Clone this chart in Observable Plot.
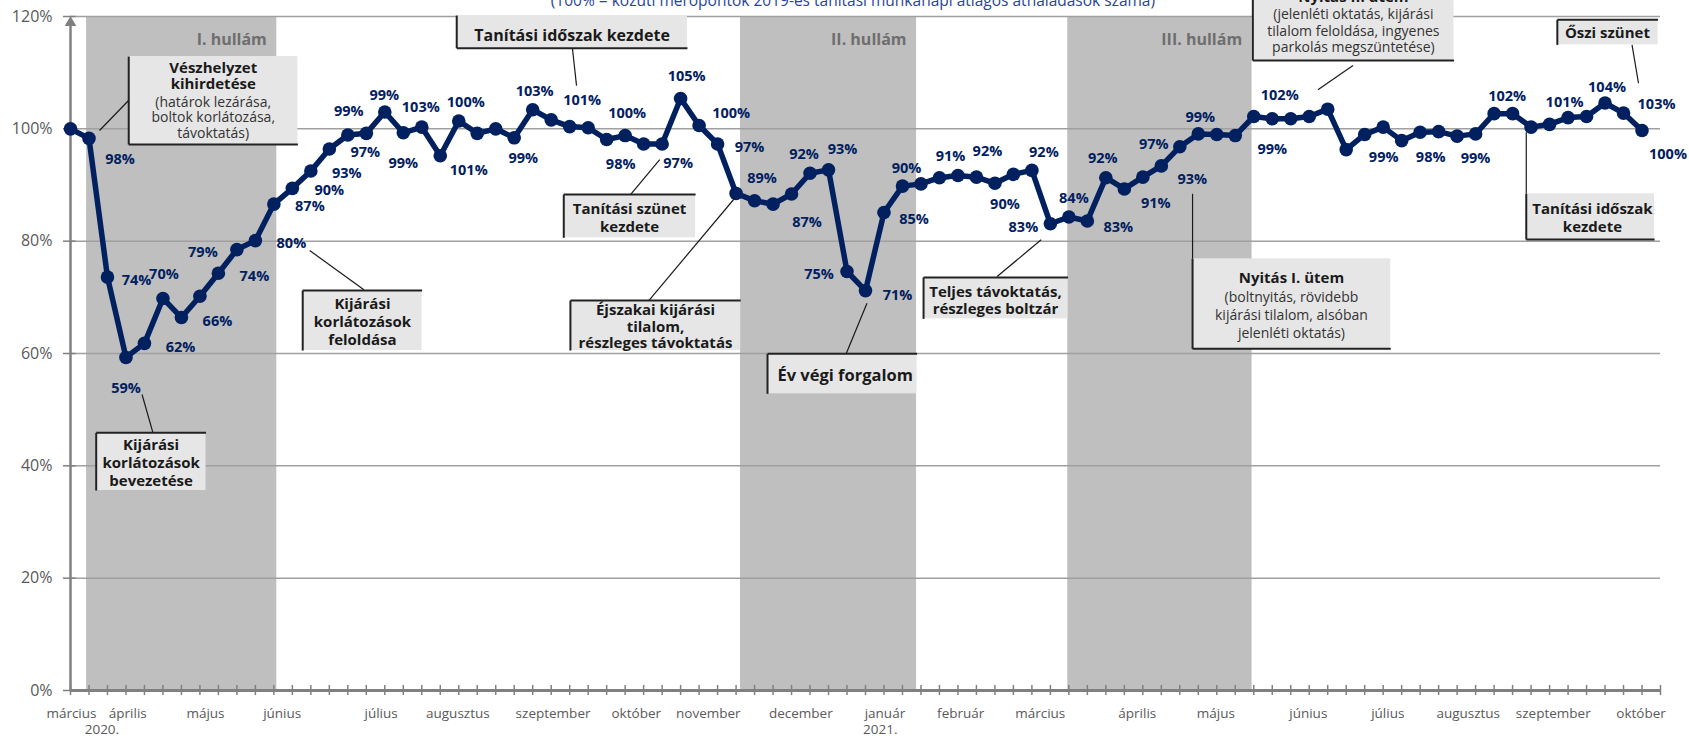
<!DOCTYPE html>
<html><head><meta charset="utf-8">
<script src="https://cdn.jsdelivr.net/npm/d3@7"></script>
<script src="https://cdn.jsdelivr.net/npm/@observablehq/plot@0.6"></script>
<style>
body{margin:0;background:#fff;}
#chart svg{overflow:visible;display:block}
</style></head><body><div id="chart"></div>
<script>
// weekly traffic index (100% = 2019 school-day average), weeks from March 2020 to October 2021
const values = [
  100, 98.3, 73.6, 59.3, 61.8, 69.8, 66.4, 70.2, 74.3, 78.5,
  80.1, 86.6, 89.4, 92.5, 96.4, 98.9, 99.2, 103.0, 99.3, 100.3,
  95.2, 101.4, 99.2, 100.0, 98.4, 103.4, 101.6, 100.4, 100.2, 98.1,
  98.8, 97.3, 97.3, 105.4, 100.6, 97.3, 88.5, 87.2, 86.6, 88.4,
  92.1, 92.7, 74.6, 71.2, 85.1, 89.8, 90.2, 91.3, 91.7, 91.4,
  90.3, 91.9, 92.6, 83.1, 84.3, 83.6, 91.3, 89.3, 91.4, 93.4,
  96.8, 99.1, 99.0, 98.8, 102.2, 101.8, 101.8, 102.2, 103.5, 96.3,
  99.0, 100.3, 97.9, 99.4, 99.5, 98.7, 99.1, 102.7, 102.7, 100.3,
  100.8, 102.0, 102.2, 104.6, 102.8, 99.7
];
// printed value labels (null = no label)
const valueLabels = [
  null, 98, 74, 59, 62, 70, 66, null, 74, 79,
  80, 87, 90, 93, 97, 99, 99, 103, 99, 100,
  null, 101, null, null, 99, 103, 101, null, 100, 98,
  null, null, 97, 105, 100, 97, 89, null, 87, null,
  92, 93, 75, 71, 85, 90, null, 91, null, 92,
  90, null, 92, 83, 84, 83, 92, null, 91, 93,
  97, 99, null, 99, 102, null, null, null, null, null,
  99, null, 98, null, null, null, 99, 102, null, null,
  101, null, null, 104, 103, 100
];
// label placement offsets in px [dx, dy] (style)
const labelOffsets = [
  null, [31,21], [29,3], [0,31], [36,4], [1,-24], [36,4], null, [36,3], [-34,3],
  [36,3], [36,2], [37,2], [36,2], [36,3], [1,-24], [18,-38], [36,-5], [0,31], [44,-25],
  null, [10,49], null, null, [9,21], [2,-18], [31,-19], null, [39,-14], [14,25],
  null, null, [16,19], [6,-22], [32,-12], [32,3], [26,-15], null, [34,18], null,
  [-6,-19], [14,-20], [-28,3], [32,5], [30,7], [4,-18], null, [11,-21], null, [11,-26],
  [10,21], null, [12,-18], [-27,4], [5,-19], [31,6], [-3,-19], null, [13,26], [31,13],
  [-26,-2], [2,-17], null, [37,14], [26,-21], null, null, null, null, null,
  [19,23], null, [29,17], null, null, null, [0,24], [13,-17], null, null,
  [15,-22], null, null, [2,-16], [33,-9], [26,24]
];
const monthNames = ["március","április","május","június","július","augusztus","szeptember","október","november","december",
  "január","február","március","április","május","június","július","augusztus","szeptember","október"];
const monthPos = [0.05, 3.1, 7.3, 11.45, 16.8, 20.95, 26.1, 30.6, 34.5, 39.5,
  44.05, 48.15, 52.45, 57.7, 61.95, 66.95, 71.25, 75.6, 80.2, 84.95];
const yearNames = ["2020.", "2021."];
const yearPos = [1.7, 43.8];
const yTicks = [0, 20, 40, 60, 80, 100, 120];
const waveNames = ["I. hullám", "II. hullám", "III. hullám"];
const waveStart = [0.87, 36.24, 53.94];
const waveEnd = [11.16, 45.76, 63.91];
const subtitle = "(100% = közúti mérőpontok 2019-es tanítási munkanapi átlagos áthaladások száma)";

// annotation callouts (positions in data units: week index, percent)
const notes = [
  {x1:3.15, x2:12.30, y1:97.2, y2:112.87, border:"lb", bold:"Vészhelyzet\nkihirdetése", by:109.49,
   reg:"(határok lezárása,\nboltok korlátozása,\ntávoktatás)", ry:102.07, cx:7.72, lead:[3.14,105.04,1.57,99.7], lh:1.12, size:15},
  {x1:1.39, x2:7.33, y1:35.61, y2:45.88, border:"lt", bold:"Kijárási\nkorlátozások\nbevezetése", by:40.64, cx:4.36, lead:[4.45,45.99,3.87,52.7], lh:1.18, size:15},
  {x1:12.56, x2:19.02, y1:60.53, y2:71.21, border:"lt", bold:"Kijárási\nkorlátozások\nfeloldása", by:65.66, cx:15.79, lead:[15.87,71.34,12.94,78.33], lh:1.2, size:15},
  {x1:20.89, x2:33.37, y1:114.35, y2:120.17, border:"lb", bold:"Tanítási időszak kezdete", by:116.6, cx:27.13, lead:[27.15,114.3,27.37,107.7], lh:1.1, size:16},
  {x1:26.68, x2:33.81, y1:80.6, y2:88.3, border:"lt", bold:"Tanítási szünet\nkezdete", by:84.26, cx:30.24, lead:[30.29,88.3,31.87,94.53], lh:1.2, size:15},
  {x1:27.04, x2:36.25, y1:60.53, y2:69.43, border:"lt", bold:"Éjszakai kijárási\ntilalom,\nrészleges távoktatás", by:64.86, cx:31.64, lead:[31.28,69.43,35.97,87.82], lh:1.12, size:15},
  {x1:37.7, x2:45.79, y1:52.82, y2:59.94, border:"lt", bold:"Év végi forgalom", by:56.08, cx:41.9, lead:[41.96,60.0,43.08,68.95], lh:1.1, size:16.5},
  {x1:46.14, x2:53.95, y1:66.17, y2:73.53, border:"lt", bold:"Teljes távoktatás,\nrészleges boltzár", by:69.58, cx:50.03, lead:[50.12,73.7,52.5,80.24], lh:1.13, size:15},
  {x1:60.69, x2:71.41, y1:60.83, y2:76.86, border:"lb", bold:"Nyitás I. ütem", by:73.7,
   reg:"(boltnyitás, rövidebb\nkijárási tilalom, alsóban\njelenléti oktatás)", ry:66.96, cx:66.04, lead:[60.69,88.43,60.69,76.86], lh:1.3, size:15},
  {x1:63.95, x2:74.83, y1:112.16, y2:126.4, border:"lb", bold:"Nyitás II. ütem", by:123.55,
   reg:"(jelenléti oktatás, kijárási\ntilalom feloldása, ingyenes\nparkolás megszüntetése)", ry:117.57, cx:69.39, lead:[69.37,111.27,67.47,106.94], lh:1.2, size:15},
  {x1:80.42, x2:85.87, y1:114.95, y2:119.4, border:"lt", bold:"Őszi szünet", by:117.09, cx:83.13, lead:[84.46,114.95,84.81,108.12], lh:1.1, size:15},
  {x1:78.74, x2:85.68, y1:80.29, y2:88.43, border:"lb", bold:"Tanítási időszak\nkezdete", by:84.3, cx:82.32, lead:[78.74,99.41,78.74,88.43], lh:1.22, size:15}
];

const W = 1689, H = 740, ML = 70, MR = 29, MT = 16, MB = 50;
const NX = 86;
const kx = (W - ML - MR) / NX, ky = (H - MT - MB) / 120;

const series = values.map((v, i) => ({i, v}));
const labeled = values.map((v, i) => ({i, v, label: valueLabels[i], off: labelOffsets[i]}))
  .filter(d => d.label != null);
const waves = waveNames.map((name, k) => ({name, x1: waveStart[k], x2: waveEnd[k]}));
const months = monthNames.map((m, k) => ({m, x: monthPos[k]}));
const years = yearNames.map((m, k) => ({m, x: yearPos[k]}));

const borderSegs = notes.flatMap(n => {
  const yy = n.border === "lt" ? n.y2 : n.y1;
  return [{x1:n.x1, y1:n.y1, x2:n.x1, y2:n.y2}, {x1:n.x1, y1:yy, x2:n.x2, y2:yy}];
});

const grey = "#808080";
const navy = "#002060";

const noteTexts = notes.flatMap(n => {
  const out = [Plot.text([n], {x: "cx", y: "by", text: "bold", fontWeight: "bold", fontSize: n.size,
    fill: "#1a1a1a", lineHeight: n.lh, lineAnchor: "middle"})];
  if (n.reg) out.push(Plot.text([n], {x: "cx", y: "ry", text: "reg", fontSize: 14,
    fill: "#333333", lineHeight: n.lh, lineAnchor: "middle"}));
  return out;
});

const chart = Plot.plot({
  width: W, height: H,
  marginLeft: ML, marginRight: MR, marginTop: MT, marginBottom: MB,
  x: {domain: [0, NX], axis: null},
  y: {domain: [0, 120], axis: null},
  style: {fontFamily: "'Open Sans', sans-serif", background: "white", overflow: "visible"},
  marks: [
    Plot.rect(waves, {x1: "x1", x2: "x2", y1: 0, y2: 120, fill: "#bfbfbf"}),
    Plot.text(waves, {x: "x2", y: 115.9, text: "name", textAnchor: "end", dx: -10,
      fill: "#6e6e6e", fontWeight: "bold", fontSize: 16, lineAnchor: "middle"}),
    Plot.ruleY(yTicks.filter(t => t > 0), {stroke: "#a0a0a0", strokeWidth: 1.5}),
    Plot.ruleY(yTicks, {x1: -0.38, x2: 0.3, stroke: grey, strokeWidth: 1.5}),
    Plot.ruleX(d3.range(NX + 1), {y1: -0.9, y2: 0.9, stroke: grey, strokeWidth: 1.5}),
    Plot.ruleX([0], {y1: 0, y2: 119, stroke: grey, strokeWidth: 2.5}),
    Plot.dot([0], {x: 0, y: 118.9, symbol: "triangle", r: 4.3, fill: grey, stroke: "none"}),
    Plot.ruleY([0], {stroke: grey, strokeWidth: 3}),
    Plot.text(yTicks, {x: 0, y: d => d, text: d => d + "%", textAnchor: "end", dx: -18,
      fill: "#595959", fontSize: 16, lineAnchor: "middle"}),
    Plot.text(months, {x: "x", frameAnchor: "bottom", text: "m", dy: 23, fill: "#595959",
      fontSize: 13.5, lineAnchor: "middle"}),
    Plot.text(years, {x: "x", frameAnchor: "bottom", text: "m", dy: 39, fill: "#595959",
      fontSize: 13.5, lineAnchor: "middle"}),
    // callout boxes
    Plot.rect(notes, {x1: "x1", x2: "x2", y1: "y1", y2: "y2", fill: "#e6e6e6"}),
    Plot.link(borderSegs, {x1: "x1", y1: "y1", x2: "x2", y2: "y2", stroke: "#222222", strokeWidth: 2}),
    Plot.link(notes, {x1: n => n.lead[0], y1: n => n.lead[1], x2: n => n.lead[2], y2: n => n.lead[3],
      stroke: "#1a1a1a", strokeWidth: 1.2}),
    ...noteTexts,
    // data
    Plot.line(series, {x: "i", y: "v", stroke: navy, strokeWidth: 5.5, strokeLinejoin: "round"}),
    Plot.dot(series, {x: "i", y: "v", r: 6.8, fill: navy, stroke: "none"}),
    Plot.text(labeled, {x: d => d.i + d.off[0] / kx, y: d => d.v - d.off[1] / ky,
      text: d => d.label + "%", fill: navy, fontWeight: "bold", fontSize: 14.5, lineAnchor: "middle"}),
    Plot.text([subtitle], {x: 42.32, y: 121.86, text: d => d, lineAnchor: "bottom",
      fill: "#2a4596", fontSize: 15.5})
  ]
});
document.getElementById("chart").appendChild(chart);
</script>
</body></html>
